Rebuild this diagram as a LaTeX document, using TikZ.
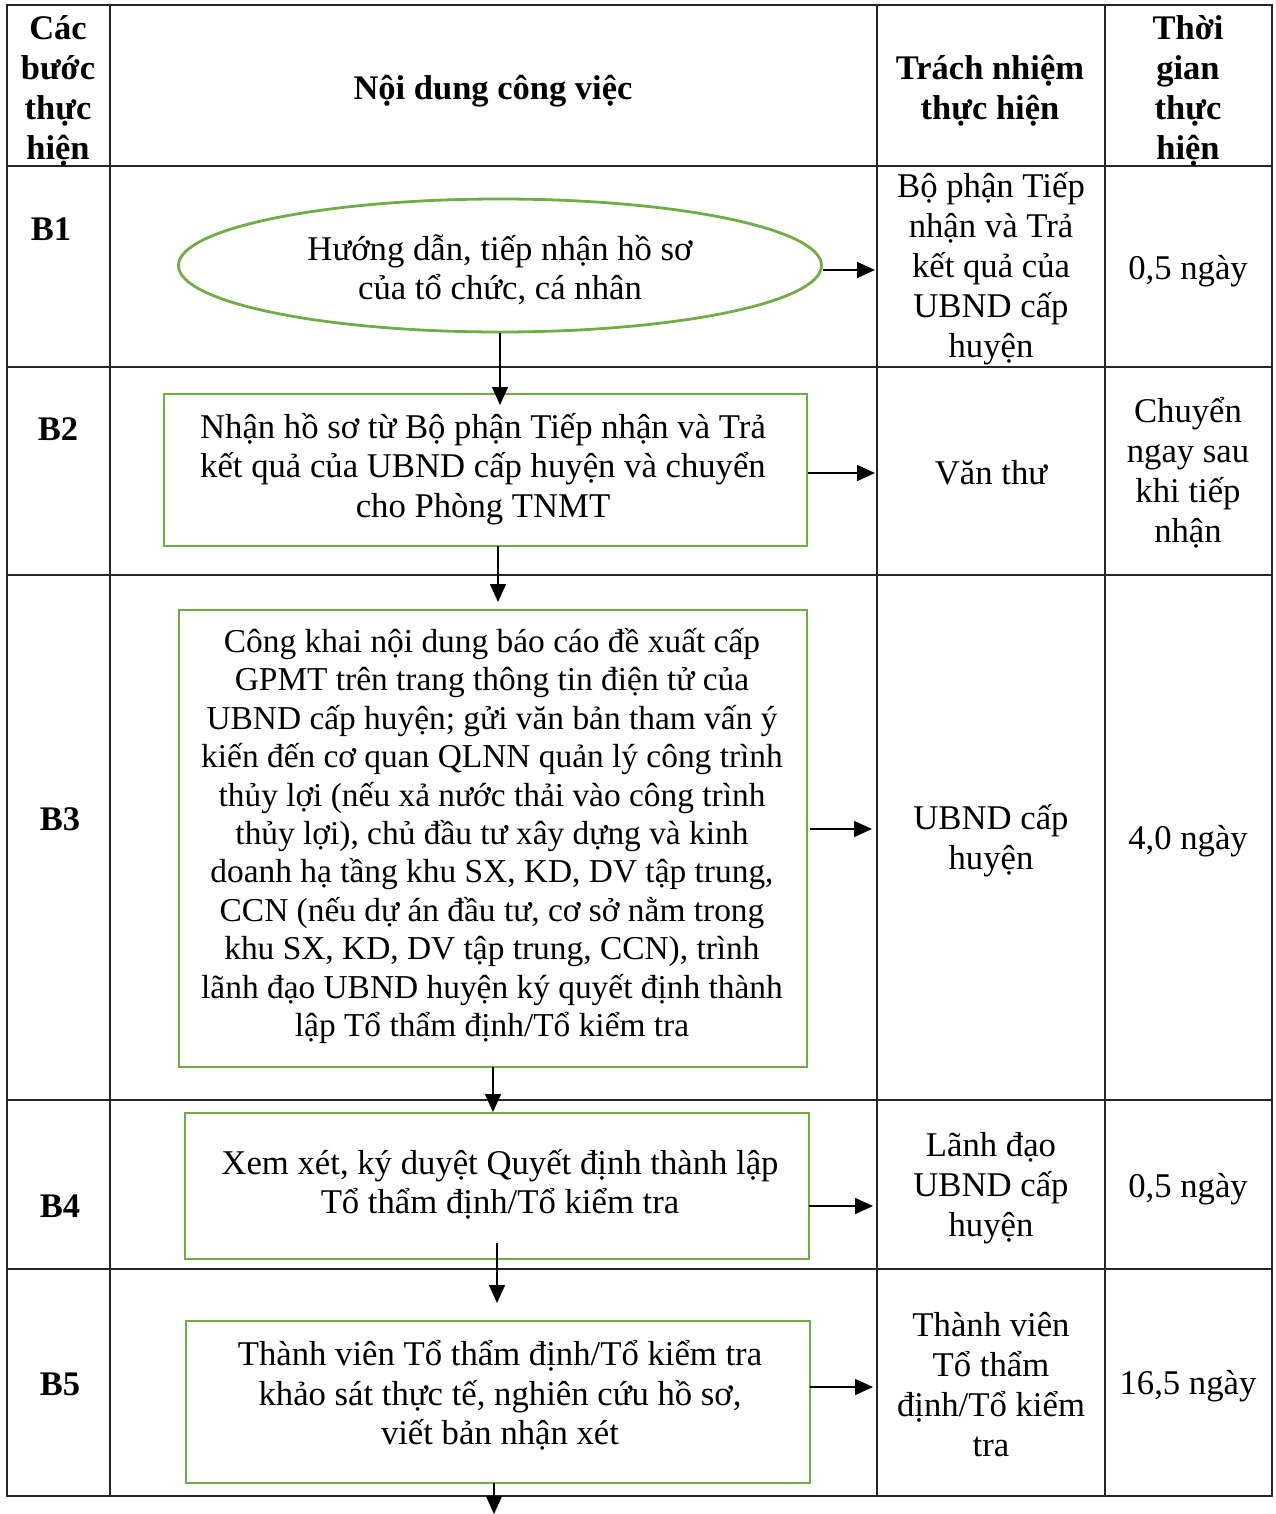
\documentclass[tikz,border=0pt]{standalone}
\usepackage{fontspec}
\setmainfont{Liberation Serif}
\usetikzlibrary{shapes.geometric,arrows.meta}
\definecolor{grn}{HTML}{70AD47}
\newcommand{\bodyfnt}{\fontsize{34.7}{39.5}\selectfont}
\newcommand{\smallbodyfnt}{\fontsize{33.4}{38.4}\selectfont}
\newcommand{\colfnt}{\fontsize{34.7}{40}\selectfont}
\newcommand{\headfnt}{\fontsize{34.5}{40}\selectfont\bfseries}
\begin{document}
\begin{tikzpicture}[x=1pt,y=-1pt,
  gridline/.style={line width=1.6pt,black!85},
  flowbox/.style={draw=grn,line width=2.8pt,inner sep=0pt},
  flowell/.style={flowbox,ellipse},
  boxtext/.style={align=center,font=\bodyfnt,inner sep=0pt},
  coltext/.style={align=center,font=\colfnt,inner sep=0pt},
  headtext/.style={align=center,font=\headfnt,inner sep=0pt},
  steptext/.style={font=\headfnt,inner sep=0pt},
  arr/.style={line width=1.6pt,-{Triangle[length=18pt,width=16pt]}}]
\useasboundingbox (0,0) rectangle (1275,1514);
% table grid
\draw[gridline] (7,5) rectangle (1272,1496);
\foreach \xx in {110,877,1105} \draw[gridline] (\xx,5) -- (\xx,1496);
\foreach \yy in {166,367,575,1100,1269} \draw[gridline] (7,\yy) -- (1272,\yy);
% header
\node[headtext] (h1) at (58,91) {Các\\bước\\thực\\hiện};
\node[headtext] (h2) at (493,91) {Nội dung công việc};
\node[headtext] (h3) at (990,91) {Trách nhiệm\\thực hiện};
\node[headtext] (h4) at (1188,91) {Thời\\gian\\thực\\hiện};
% step labels
\node[steptext] (s1) at (51,229) {B1};
\node[steptext] (s2) at (58,429) {B2};
\node[steptext] (s3) at (60,819) {B3};
\node[steptext] (s4) at (60,1206) {B4};
\node[steptext] (s5) at (60,1384) {B5};
% flow shapes
\node[flowell,minimum width=643pt,minimum height=133pt] (e1) at (500,265.5) {};
\node[flowbox,minimum width=643pt,minimum height=152pt] (b2) at (485.5,470) {};
\node[flowbox,minimum width=628pt,minimum height=457pt] (b3) at (493,838.5) {};
\node[flowbox,minimum width=624pt,minimum height=146pt] (b4) at (497,1186) {};
\node[flowbox,minimum width=624pt,minimum height=162pt] (b5) at (498,1402) {};
% texts in flow shapes
\node[boxtext] (e1t) at (500,270) {Hướng dẫn, tiếp nhận hồ sơ\\của tổ chức, cá nhân};
\node[boxtext] (b2t) at (483,469) {Nhận hồ sơ từ Bộ phận Tiếp nhận và Trả\\kết quả của UBND cấp huyện và chuyển\\cho Phòng TNMT};
\node[boxtext,font=\smallbodyfnt] (b3t) at (492,836) {Công khai nội dung báo cáo đề xuất cấp\\GPMT trên trang thông tin điện tử của\\UBND cấp huyện; gửi văn bản tham vấn ý\\kiến đến cơ quan QLNN quản lý công trình\\thủy lợi (nếu xả nước thải vào công trình\\thủy lợi), chủ đầu tư xây dựng và kinh\\doanh hạ tầng khu SX, KD, DV tập trung,\\CCN (nếu dự án đầu tư, cơ sở nằm trong\\khu SX, KD, DV tập trung, CCN), trình\\lãnh đạo UBND huyện ký quyết định thành\\lập Tổ thẩm định/Tổ kiểm tra};
\node[boxtext] (b4t) at (500,1184.5) {Xem xét, ký duyệt Quyết định thành lập\\Tổ thẩm định/Tổ kiểm tra};
\node[boxtext] (b5t) at (500,1395.5) {Thành viên Tổ thẩm định/Tổ kiểm tra\\khảo sát thực tế, nghiên cứu hồ sơ,\\viết bản nhận xét};
% responsibility column
\node[coltext] (r1) at (991,269) {Bộ phận Tiếp\\nhận và Trả\\kết quả của\\UBND cấp\\huyện};
\node[coltext] (r2) at (991,473) {Văn thư};
\node[coltext] (r3) at (991,841) {UBND cấp\\huyện};
\node[coltext] (r4) at (991,1188.5) {Lãnh đạo\\UBND cấp\\huyện};
\node[coltext] (r5) at (991,1385) {Thành viên\\Tổ thẩm\\định/Tổ kiểm\\tra};
% time column
\node[coltext] (t1) at (1188,271) {0,5 ngày};
\node[coltext] (t2) at (1188,473) {Chuyển\\ngay sau\\khi tiếp\\nhận};
\node[coltext] (t3) at (1188,841) {4,0 ngày};
\node[coltext] (t4) at (1188,1189) {0,5 ngày};
\node[coltext] (t5) at (1188,1386) {16,5 ngày};
% arrow coordinates
\coordinate (a12) at (e1.south |- 0,405);
\coordinate (a23s) at (498,546);
\coordinate (a23) at (498,602);
\coordinate (a34s) at (493,1067);
\coordinate (a34) at (493,1112);
\coordinate (a45s) at (497,1243);
\coordinate (a45) at (497,1303);
\coordinate (a5s) at (494,1483);
\coordinate (a5) at (494,1514);
\coordinate (re1) at (875,270);
\coordinate (re2) at (875,473);
\coordinate (rs3) at (810,829);
\coordinate (re3) at (872,829);
\coordinate (rs4) at (809,1206);
\coordinate (re4) at (873,1206);
\coordinate (rs5) at (810,1387);
\coordinate (re5) at (873,1387);
% vertical arrows
\draw[arr] (e1.south) -- (a12);
\draw[arr] (a23s) -- (a23);
\draw[arr] (a34s) -- (a34);
\draw[arr] (a45s) -- (a45);
\draw[arr] (a5s) -- (a5);
% horizontal arrows
\draw[arr] (e1.east |- re1) -- (re1);
\draw[arr] (b2.east |- re2) -- (re2);
\draw[arr] (rs3) -- (re3);
\draw[arr] (rs4) -- (re4);
\draw[arr] (rs5) -- (re5);
\end{tikzpicture}
\end{document}
